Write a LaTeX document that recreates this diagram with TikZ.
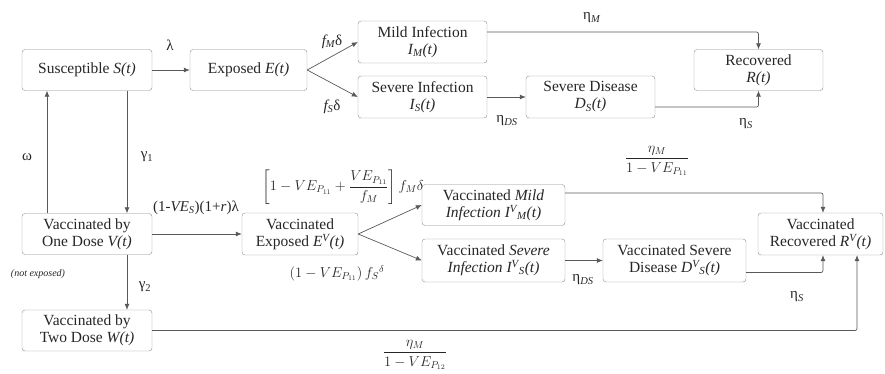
\documentclass[tikz,border=0pt]{standalone}
\usepackage{amsmath}
\usepackage{fontspec}
\setmainfont{Liberation Serif}
\usetikzlibrary{arrows.meta,calc}
\begin{document}
\begin{tikzpicture}[x=1pt,y=-1pt,
  box/.style={draw=black!45, rounded corners=3pt, align=center, inner sep=1pt, font=\fontsize{15.5}{17}\selectfont, text=black!85},
  arr/.style={draw=black!65, line width=0.7pt, -{Latex[length=6pt,width=5pt]}, rounded corners=2pt},
  lab/.style={font=\fontsize{15}{17}\selectfont, text=black!85, inner sep=0pt},
  mlab/.style={font=\fontsize{14.5}{16}\selectfont, text=black!85, inner sep=0pt}]
\useasboundingbox (0,0) rectangle (885,373);
% top row
\node[box, minimum width=130pt, minimum height=41pt] (S) at (87,70) {Susceptible \textit{S(t)}};
\node[box, minimum width=117pt, minimum height=41pt] (E) at (248.5,70) {Exposed \textit{E(t)}};
\node[box, minimum width=129pt, minimum height=42pt] (IM) at (422.5,42) {Mild Infection\\ \textit{I\textsubscript{M}(t)}};
\node[box, minimum width=129pt, minimum height=42pt] (IS) at (422.5,97) {Severe Infection\\ \textit{I\textsubscript{S}(t)}};
\node[box, minimum width=129pt, minimum height=42pt] (DS) at (590.5,97) {Severe Disease\\ \textit{D\textsubscript{S}(t)}};
\node[box, minimum width=129pt, minimum height=41pt] (R) at (758.5,70) {Recovered\\ \textit{R(t)}};
% bottom rows
\node[box, minimum width=130pt, minimum height=41pt] (V) at (87,234) {Vaccinated by\\ One Dose \textit{V(t)}};
\node[box, minimum width=116pt, minimum height=42pt] (VE) at (300,234) {Vaccinated\\ Exposed \textit{E\textsuperscript{V}(t)}};
\node[box, minimum width=143pt, minimum height=41pt] (VIM) at (493.5,205) {Vaccinated \textit{Mild}\\ \textit{Infection I\textsuperscript{V}\textsubscript{M}(t)}};
\node[box, minimum width=143pt, minimum height=43pt] (VIS) at (493.5,260.5) {Vaccinated \textit{Severe}\\ \textit{Infection I\textsuperscript{V}\textsubscript{S}(t)}};
\node[box, minimum width=143pt, minimum height=43pt] (VDS) at (674.5,260.5) {Vaccinated Severe\\ Disease \textit{D\textsuperscript{V}\textsubscript{S}(t)}};
\node[box, minimum width=125pt, minimum height=42pt] (VR) at (820.5,234) {Vaccinated\\ Recovered \textit{R\textsuperscript{V}(t)}};
\node[box, minimum width=130pt, minimum height=41pt] (W) at (87,330.5) {Vaccinated by\\ Two Dose \textit{W(t)}};
% helper coordinates
\coordinate (cw) at (47,0);
\coordinate (cg) at (127,0);
\coordinate (cr) at (857,0);
% connectors top
\draw[arr] (S.east) -- (E.west);
\draw[arr] (E.east) -- (IM.west);
\draw[arr] (E.east) -- (IS.west);
\draw[arr] (IS.east) -- (DS.west);
\draw[arr] ([yshift=10pt]IM.east) -| (R.north);
\draw[arr] ([yshift=-10pt]DS.east) -| (R.south);
% vertical
\draw[arr] (V.north -| cw) -- (S.south -| cw);
\draw[arr] (S.south -| cg) -- (V.north -| cg);
\draw[arr] (V.south -| cg) -- (W.north -| cg);
% connectors bottom
\draw[arr] (V.east) -- (VE.west);
\draw[arr] (VE.east) -- (VIM.west);
\draw[arr] (VE.east) -- (VIS.west);
\draw[arr] (VIS.east) -- (VDS.west);
\draw[arr] ([yshift=12pt]VIM.east) -| ([xshift=2.5pt]VR.north);
\draw[arr] ([yshift=-12pt]VDS.east) -| ([xshift=2.5pt]VR.south);
\draw[arr] (W.east) -| (VR.south -| cr);
% labels
\node[lab] (l1) at (170,45) {λ};
\node[lab] (l2) at (332,42) {\textit{f\textsubscript{M}}δ};
\node[lab] (l3) at (332,107) {\textit{f\textsubscript{S}}δ};
\node[lab] (l4) at (27,157) {ω};
\node[lab] (l5) at (147,157) {γ\textsubscript{1}};
\node[lab] (l6) at (592,18) {η\textsubscript{\textit{M}}};
\node[lab] (l7) at (507,121) {η\textsubscript{\textit{DS}}};
\node[lab] (l8) at (746,124) {η\textsubscript{\textit{S}}};
\node[lab] (l9) at (196,208) {(1-\textit{VE\textsubscript{S}})(1+\textit{r})λ};
\node[mlab] (l10) at (343,187) {$\left[1-VE_{P_{11}}+\dfrac{VE_{P_{11}}}{f_M}\right]f_M\delta$};
\node[mlab] (l11) at (337,273) {$\left(1-VE_{P_{11}}\right)f_S{}^{\delta}$};
\node[mlab] (l12) at (657,161) {$\dfrac{\eta_M}{1-VE_{P_{11}}}$};
\node[lab, font=\fontsize{10}{12}\selectfont\itshape] (l13) at (38,274) {(not exposed)};
\node[lab] (l14) at (145,287) {γ\textsubscript{2}};
\node[lab] (l15) at (583,280) {η\textsubscript{\textit{DS}}};
\node[lab] (l16) at (797,297) {η\textsubscript{\textit{S}}};
\node[mlab] (l17) at (415,355) {$\dfrac{\eta_M}{1-VE_{P_{12}}}$};
\end{tikzpicture}
\end{document}
